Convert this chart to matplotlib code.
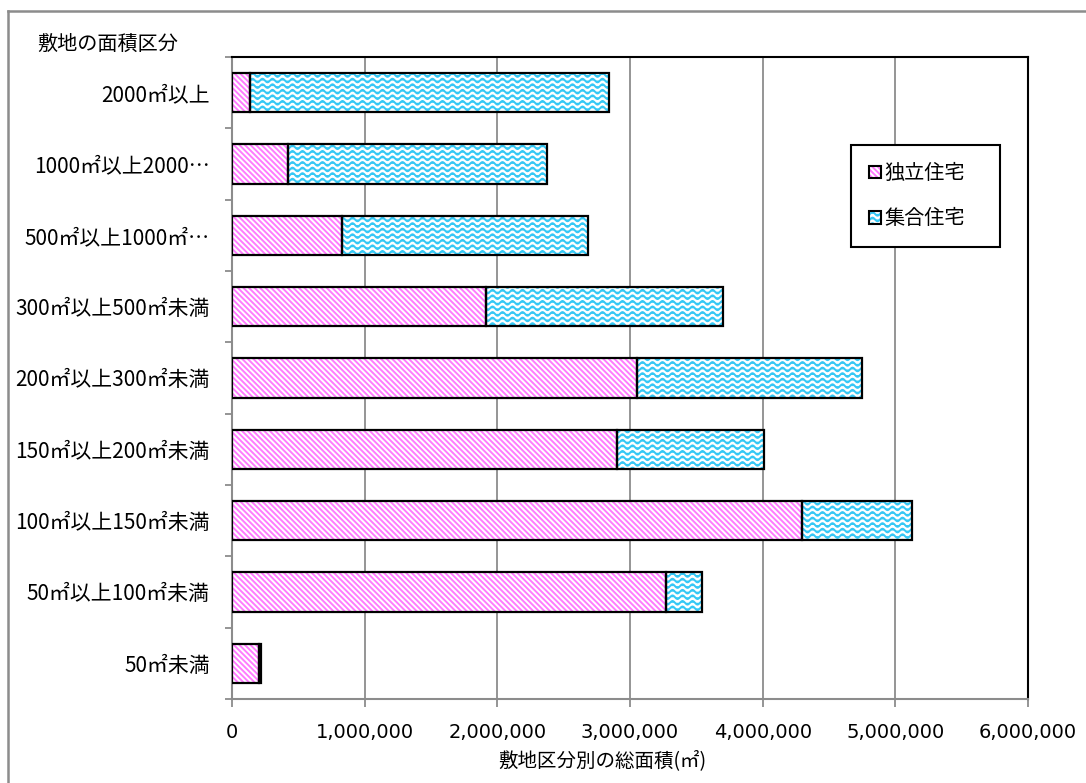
import warnings
import numpy as np
import matplotlib
matplotlib.use("Agg")
import matplotlib.pyplot as plt
import matplotlib.hatch as mhatch
from matplotlib.path import Path
from matplotlib.patches import Patch
from matplotlib.lines import Line2D
from matplotlib.ticker import FuncFormatter, MultipleLocator

warnings.filterwarnings("ignore")

# 敷地の面積区分（下から上の順）
区分 = ["50㎡未満", "50㎡以上100㎡未満", "100㎡以上150㎡未満", "150㎡以上200㎡未満",
       "200㎡以上300㎡未満", "300㎡以上500㎡未満", "500㎡以上1000㎡…",
       "1000㎡以上2000…", "2000㎡以上"]
独立住宅 = [203000, 3271000, 4295000, 2901000, 3052000, 1914000, 829000, 422000, 135000]
集合住宅 = [15000, 271000, 829000, 1108000, 1696000, 1786000, 1854000, 1952000, 2705000]
系列名 = ["独立住宅", "集合住宅"]


# 波線のハッチ模様 '~'
class WaveHatch(mhatch.HatchPatternBase):
    def __init__(self, hatch, density):
        self.num_rows = int(hatch.count("~") * density)
        self.n_pts = 121
        self.num_vertices = self.num_rows * self.n_pts

    def set_vertices_and_codes(self, vertices, codes):
        n = self.n_pts
        xs = np.linspace(0.0, 1.0, n)
        for i in range(self.num_rows):
            y = (i + 0.5) / self.num_rows
            sl = slice(i * n, (i + 1) * n)
            vertices[sl, 0] = xs
            vertices[sl, 1] = y + 0.018 * np.sin(2 * np.pi * 10 * xs)
            codes[sl] = Path.LINETO
            codes[i * n] = Path.MOVETO


mhatch._hatch_types.append(WaveHatch)

plt.rcParams["font.family"] = ["Noto Sans CJK JP", "DejaVu Sans"]
plt.rcParams["hatch.linewidth"] = 1.4

ピンク = "#FF7BFF"
水色 = "#35C8F5"
ハッチ1 = "\\" * 6
ハッチ2 = "~~~"

fig = plt.figure(figsize=(10.86, 7.83), dpi=100)
ax = fig.add_axes([232 / 1086, 1 - 699 / 783, 796 / 1086, 642 / 783])

y = np.arange(len(区分))
h = 0.55
ax.barh(y, 独立住宅, height=h, color="white", edgecolor=ピンク, hatch=ハッチ1, lw=0, zorder=3)
ax.barh(y, 集合住宅, left=独立住宅, height=h, color="white", edgecolor=水色, hatch=ハッチ2, lw=0, zorder=3)
ax.barh(y, 独立住宅, height=h, fill=False, edgecolor="black", lw=1.6, zorder=4)
ax.barh(y, 集合住宅, left=独立住宅, height=h, fill=False, edgecolor="black", lw=1.6, zorder=4)

ax.set_xlim(0, 6000000)
ax.set_ylim(-0.5, len(区分) - 0.5)
ax.xaxis.set_major_locator(MultipleLocator(1000000))
ax.xaxis.set_major_formatter(FuncFormatter(lambda v, p: f"{int(v):,}"))
ax.grid(axis="x", color="#8c8c8c", lw=1.3, zorder=0)

ax.set_yticks(y)
ax.set_yticklabels(区分, fontsize=15)
ax.set_yticks(np.arange(-0.5, len(区分)), minor=True)
ax.tick_params(axis="y", which="major", length=0, pad=16)
ax.tick_params(axis="y", which="minor", length=5, color="#8c8c8c", width=1.3)
ax.tick_params(axis="x", length=6, color="#8c8c8c", width=1.3, pad=11)
for t in ax.get_xticklabels():
    t.set_family("DejaVu Sans")
    t.set_fontsize(14)

for s in ["left", "bottom"]:
    ax.spines[s].set_color("#8c8c8c")
    ax.spines[s].set_linewidth(1.5)
for s in ["top", "right"]:
    ax.spines[s].set_color("black")
    ax.spines[s].set_linewidth(1.5)

# 凡例
handles = [
    (Patch(facecolor="white", edgecolor=ピンク, hatch=ハッチ1, lw=0),
     Patch(fill=False, edgecolor="black", lw=1.5)),
    (Patch(facecolor="white", edgecolor=水色, hatch=ハッチ2, lw=0),
     Patch(fill=False, edgecolor="black", lw=1.5)),
]
leg = fig.legend(handles, 系列名, loc="upper left", mode="expand",
                 bbox_to_anchor=(851 / 1086, 1 - 245 / 783, 149 / 1086, 100 / 783),
                 fontsize=14.5, handlelength=0.6, handleheight=0.6,
                 handletextpad=0.15, labelspacing=1.2, borderpad=0.9,
                 borderaxespad=0, fancybox=False, framealpha=1)
leg.get_frame().set_edgecolor("black")
leg.get_frame().set_linewidth(1.5)
leg.set_zorder(10)

fig.text(37 / 1086, 1 - 44 / 783, "敷地の面積区分", fontsize=14.5, va="center", ha="left")
fig.text(602 / 1086, 1 - 761 / 783, "敷地区分別の総面積(㎡)", fontsize=14, va="center", ha="center")

# 外枠
fig.add_artist(Line2D([8 / 1086, 1.0], [1 - 11 / 783] * 2, color="#8c8c8c", lw=1.8,
                      transform=fig.transFigure))
fig.add_artist(Line2D([8 / 1086] * 2, [0.0, 1 - 11 / 783], color="#8c8c8c", lw=1.8,
                      transform=fig.transFigure))

fig.savefig("out.png", dpi=100)
